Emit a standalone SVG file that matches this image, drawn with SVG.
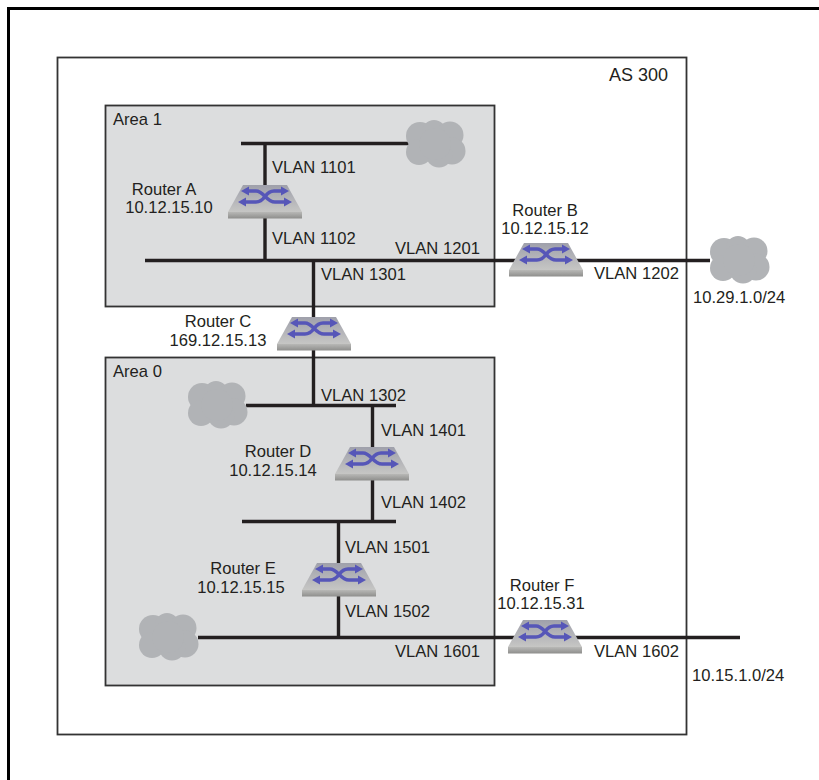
<svg xmlns="http://www.w3.org/2000/svg" width="819" height="780" viewBox="0 0 819 780">
<style>
text{font-family:"Liberation Sans",Arial,sans-serif;font-size:16.6px;fill:#231f20}
.m{text-anchor:middle}
.box{stroke:#333;stroke-width:1.8}
.ln{fill:none;stroke:#231f20;stroke-width:3.4}
.cloud{fill:#b1b3b6}
</style>
<defs>
<linearGradient id="top" x1="0" y1="0" x2="0" y2="1"><stop offset="0" stop-color="#9fa0ab"/><stop offset="1" stop-color="#c6c6c4"/></linearGradient>
<linearGradient id="front" x1="0" y1="0" x2="0" y2="1"><stop offset="0" stop-color="#b8b8b6"/><stop offset="1" stop-color="#8e8e8c"/></linearGradient>
<g id="router">
<path d="M-22-10H22L37 17H-37Z" fill="url(#top)"/>
<rect x="-37" y="17" width="74" height="6.500" fill="url(#front)"/>
<g fill="none" stroke="#5656b8" stroke-width="3.400">
<path d="M-18-4H-9C-1-4 1 7 10 7H21"/>
<path d="M-21 7H-9C1 7 -1-4 9-4H18"/>
</g>
<g fill="#5656b8">
<path d="M-24-4L-16-8.500V0.500Z"/><path d="M24-4L16-8.500V0.500Z"/>
<path d="M-27 7L-19 2.500V11.500Z"/><path d="M27 7L19 2.500V11.500Z"/>
</g>
</g>
<g id="cl">
<circle cx="-15" cy="-8" r="14"/>
<circle cx="-1" cy="-12" r="12"/>
<circle cx="15" cy="-9" r="13.500"/>
<circle cx="17" cy="7" r="13.500"/>
<circle cx="4" cy="10" r="13.500"/>
<circle cx="-16" cy="8" r="13"/>
<circle cx="0" cy="0" r="16"/>
</g>
</defs>
<path d="M8.500 780V8.500H819" fill="none" stroke="#000" stroke-width="3"/>
<g id="as300"><rect x="57.500" y="57.500" width="629" height="677" fill="#fff" class="box"/><text x="609" y="81" style="font-size:18px">AS 300</text></g>
<g id="area1"><rect x="105.500" y="105.500" width="389" height="201" fill="#dcddde" class="box"/><text x="113" y="125">Area 1</text></g>
<g id="area0"><rect x="105.500" y="357.500" width="389" height="328" fill="#dcddde" class="box"/><text x="113" y="377">Area 0</text></g>
<g id="connectors">
<path class="ln" d="M241 143.500H410M265 143.500V262M145 260.500H710M313.500 260.500V405M246 405.500H396M372.500 405V522M242 521.500H396M338.500 521V637M198 637.500H740"/>
</g>
<g id="cloud1"><use href="#cl" class="cloud" x="435" y="144"/></g>
<g id="cloud2"><use href="#cl" class="cloud" x="739" y="260"/></g>
<g id="cloud3"><use href="#cl" class="cloud" x="217" y="405"/></g>
<g id="cloud4"><use href="#cl" class="cloud" x="168" y="637"/></g>
<g id="routerA"><use href="#router" x="265" y="195"/><text class="m" x="164" y="195">Router A</text><text class="m" x="169" y="213">10.12.15.10</text></g>
<g id="routerB"><use href="#router" x="546" y="253"/><text class="m" x="545" y="216">Router B</text><text class="m" x="545" y="234">10.12.15.12</text></g>
<g id="routerC"><use href="#router" x="314" y="327"/><text class="m" x="218" y="327">Router C</text><text class="m" x="218" y="346">169.12.15.13</text></g>
<g id="routerD"><use href="#router" x="372" y="457"/><text class="m" x="278" y="457">Router D</text><text class="m" x="273" y="476">10.12.15.14</text></g>
<g id="routerE"><use href="#router" x="339" y="573"/><text class="m" x="243" y="574">Router E</text><text class="m" x="241" y="593">10.12.15.15</text></g>
<g id="routerF"><use href="#router" x="545" y="630"/><text class="m" x="542" y="591">Router F</text><text class="m" x="541" y="609">10.12.15.31</text></g>
<g id="labels">
<text x="272" y="172.500">VLAN 1101</text>
<text x="272" y="243.500">VLAN 1102</text>
<text x="395" y="253.500">VLAN 1201</text>
<text x="594" y="278.500">VLAN 1202</text>
<text x="321" y="279.500">VLAN 1301</text>
<text x="321" y="400.500">VLAN 1302</text>
<text x="381" y="435.500">VLAN 1401</text>
<text x="381" y="507.500">VLAN 1402</text>
<text x="345" y="552.500">VLAN 1501</text>
<text x="345" y="616.500">VLAN 1502</text>
<text x="395" y="656.500">VLAN 1601</text>
<text x="594" y="656.500">VLAN 1602</text>
<text x="693" y="303">10.29.1.0/24</text>
<text x="692" y="681">10.15.1.0/24</text>
</g>
</svg>
